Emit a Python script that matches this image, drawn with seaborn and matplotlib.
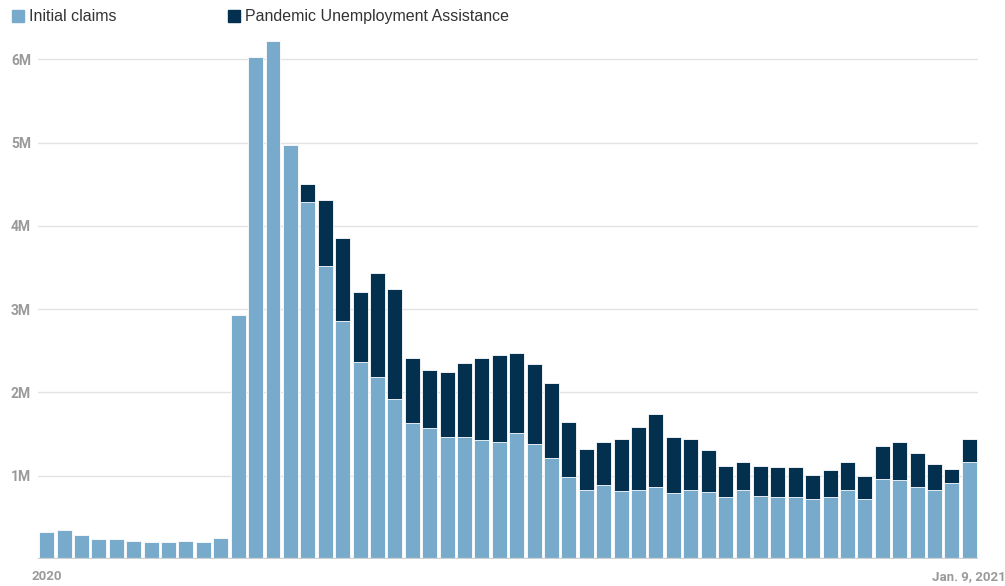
import matplotlib
matplotlib.use('Agg')
import matplotlib.pyplot as plt
from matplotlib.patches import Rectangle
import seaborn as sns
import pandas as pd

# weekly claims, millions (week ending Jan 4 2020 ... Jan 9 2021)
weeks = pd.date_range('2020-01-04', '2021-01-09', freq='7D').strftime('%Y-%m-%d').tolist()
initial = [0.33, 0.35, 0.29, 0.24, 0.24, 0.22, 0.21, 0.21, 0.22, 0.21,
           0.25, 2.93, 6.03, 6.22, 4.97, 4.29, 3.52, 2.86, 2.37, 2.19,
           1.92, 1.63, 1.57, 1.47, 1.47, 1.43, 1.40, 1.51, 1.38, 1.21,
           0.99, 0.83, 0.89, 0.82, 0.83, 0.86, 0.79, 0.83, 0.81, 0.74,
           0.83, 0.76, 0.74, 0.75, 0.72, 0.75, 0.83, 0.72, 0.96, 0.95,
           0.87, 0.83, 0.91, 1.16]
pua = [0, 0, 0, 0, 0, 0, 0, 0, 0, 0,
       0, 0, 0, 0, 0, 0.22, 0.79, 1.00, 0.84, 1.24,
       1.32, 0.79, 0.70, 0.78, 0.88, 0.99, 1.05, 0.97, 0.96, 0.90,
       0.66, 0.49, 0.52, 0.62, 0.76, 0.88, 0.67, 0.61, 0.50, 0.38,
       0.34, 0.36, 0.36, 0.35, 0.29, 0.32, 0.33, 0.28, 0.40, 0.45,
       0.40, 0.31, 0.17, 0.28]
ytick_vals = [1, 2, 3, 4, 5, 6]
ytick_labels = ['1M', '2M', '3M', '4M', '5M', '6M']

LIGHT = '#78aacb'
DARK = '#04304f'

df = pd.DataFrame({'week': weeks,
                   'initial': [v * 1e6 for v in initial],
                   'total': [(a + b) * 1e6 for a, b in zip(initial, pua)]})

W, H = 1005, 586
fig = plt.figure(figsize=(W / 100, H / 100), dpi=100)
ax = fig.add_axes([38 / W, 1 - 559 / H, 940 / W, (559 - 34.5) / H])

sns.barplot(data=df, x='week', y='total', color=DARK, saturation=1,
            width=0.86, edgecolor='white', linewidth=0.6, ax=ax, zorder=2)
sns.barplot(data=df, x='week', y='initial', color=LIGHT, saturation=1,
            width=0.86, edgecolor='white', linewidth=0.6, ax=ax, zorder=3)

ax.set_xlim(-0.5, len(weeks) - 0.5)
ax.set_ylim(0, 6.3e6)
ax.set_yticks([v * 1e6 for v in ytick_vals])
ax.set_yticklabels(ytick_labels)
ax.set_xticks([0, len(weeks) - 1])
ax.set_xticklabels(['2020', 'Jan. 9, 2021'])
ax.set_xlabel('')
ax.set_ylabel('')
for s in ax.spines.values():
    s.set_visible(False)
ax.grid(axis='y', color='#e3e3e3', linewidth=1, zorder=0)
ax.set_axisbelow(True)
ax.axhline(0, color='#d0d0d0', linewidth=1.6, zorder=4)
ax.tick_params(axis='y', length=0, labelsize=10, labelcolor='#9a9a9a', pad=5)
ax.tick_params(axis='x', length=0, labelsize=9.5, labelcolor='#9a9a9a', pad=8)
for t in ax.get_xticklabels() + ax.get_yticklabels():
    t.set_fontfamily('Roboto')
    t.set_fontweight('bold')

# legend
for x0, col, label in [(12, LIGHT, 'Initial claims'),
                       (228, DARK, 'Pandemic Unemployment Assistance')]:
    fig.patches.append(Rectangle((x0 / W, 1 - 22 / H), 12 / W, 12 / H,
                                 transform=fig.transFigure, color=col))
    fig.text((x0 + 17) / W, 1 - 16.5 / H, label, va='center', ha='left',
             fontsize=11.5, color='#333333', family='Liberation Sans')

fig.savefig('out.png', dpi=100)
